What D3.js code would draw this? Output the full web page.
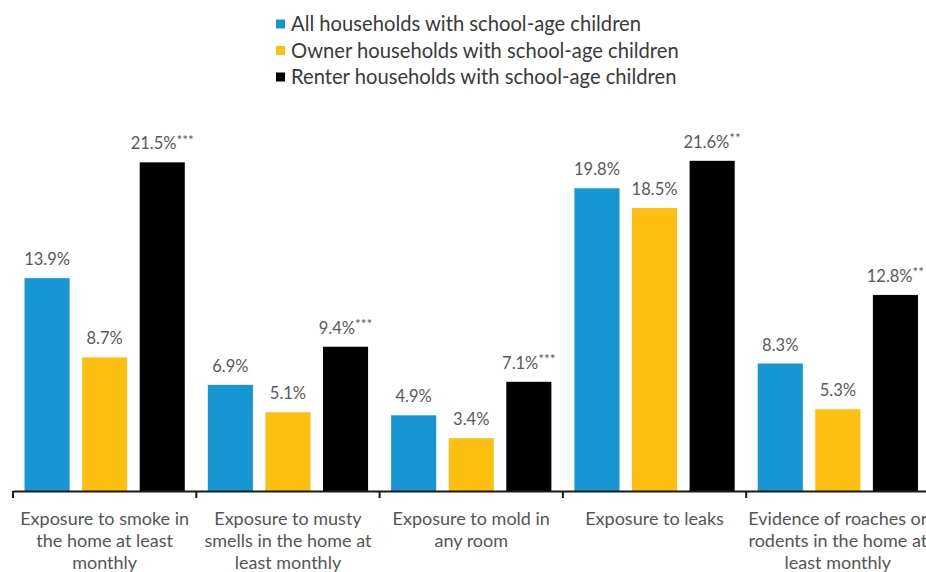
<!DOCTYPE html>
<html>
<head>
<meta charset="utf-8">
<script src="https://cdn.jsdelivr.net/npm/d3@7"></script>
<style>
  html, body { margin: 0; padding: 0; background: #ffffff; }
  svg { display: block; font-family: Lato, "Open Sans", sans-serif; }
</style>
</head>
<body>
<svg id="chart" width="926" height="572"></svg>
<script>
// Housing-quality exposures for households with school-age children
const categories = [
  ["Exposure to smoke in", "the home at least", "monthly"],
  ["Exposure to musty", "smells in the home at", "least monthly"],
  ["Exposure to mold in", "any room"],
  ["Exposure to leaks"],
  ["Evidence of roaches or", "rodents in the home at", "least monthly"]
];
const seriesNames = [
  "All households with school-age children",
  "Owner households with school-age children",
  "Renter households with school-age children"
];
const allValues    = [13.9, 6.9, 4.9, 19.8, 8.3];
const ownerValues  = [8.7, 5.1, 3.4, 18.5, 5.3];
const renterValues = [21.5, 9.4, 7.1, 21.6, 12.8];
// significance markers on the renter series
const renterStars  = ["***", "***", "***", "**", "**"];
const colors = ["#1696d2", "#fdbf11", "#000000"];

const svg = d3.select("#chart");
const catIds = categories.map((c, i) => i);
const series = [allValues, ownerValues, renterValues];

const x0 = d3.scaleBand().domain(catIds).range([13, 929.5]).padding(0);
const x1 = d3.scaleBand().domain([0, 1, 2]).range([0, x0.bandwidth()])
  .paddingInner(0.217).paddingOuter(0.2);
const y = d3.scaleLinear().domain([0, 25]).range([490, 109]);

// Legend
const legend = svg.append("g").attr("class", "legend");
seriesNames.forEach((name, i) => {
  const row = legend.append("g").attr("transform", `translate(276, ${24 + i * 26.5})`);
  row.append("rect").attr("x", 0).attr("y", -4.5).attr("width", 9).attr("height", 9)
    .attr("fill", colors[i]);
  row.append("text").attr("x", 15).attr("y", 0).attr("dy", "0.35em")
    .attr("font-size", 20.2).attr("fill", "#3a3a3a").text(name);
});

// Bars
const groups = svg.append("g").selectAll("g").data(catIds).join("g")
  .attr("transform", d => `translate(${x0(d)},0)`);

groups.selectAll("rect")
  .data(ci => series.map((s, si) => ({ si, v: s[ci], ci })))
  .join("rect")
  .attr("x", d => x1(d.si))
  .attr("width", x1.bandwidth())
  .attr("y", d => y(d.v))
  .attr("height", d => y(0) - y(d.v) + 1)
  .attr("fill", d => colors[d.si]);

// Value labels
const labels = groups.selectAll("text.val")
  .data(ci => series.map((s, si) => ({ si, v: s[ci], ci })))
  .join("text")
  .attr("class", "val")
  .attr("x", d => x1(d.si) + x1.bandwidth() / 2)
  .attr("y", d => y(d.v) - 13)
  .attr("text-anchor", "middle")
  .attr("font-size", 16.5)
  .attr("fill", "#595959");
labels.append("tspan").text(d => d.v.toFixed(1) + "%");
labels.filter(d => d.si === 2).append("tspan")
  .attr("font-size", 13.5).attr("dy", "-0.35em")
  .text(d => renterStars[d.ci]);

// Axis
const axis = svg.append("g").attr("transform", "translate(0,491)")
  .call(d3.axisBottom(x0).tickSize(0).tickSizeOuter(0).tickFormat(""));
axis.select(".domain").attr("stroke", "#1a1a1a").attr("stroke-width", 2);
axis.selectAll(".tick").remove();
axis.selectAll("line.sep").data(catIds).join("line")
  .attr("class", "sep")
  .attr("x1", d => x0(d)).attr("x2", d => x0(d))
  .attr("y1", 0).attr("y2", 7)
  .attr("stroke", "#1a1a1a").attr("stroke-width", 2);

// Category labels
const cat = svg.append("g").selectAll("text").data(catIds).join("text")
  .attr("x", d => x0(d) + x0.bandwidth() / 2)
  .attr("y", 525)
  .attr("text-anchor", "middle")
  .attr("font-size", 18)
  .attr("fill", "#555555");
cat.selectAll("tspan").data(d => categories[d].map(t => ({ t, x: x0(d) + x0.bandwidth() / 2 })))
  .join("tspan")
  .attr("x", d => d.x)
  .attr("dy", (d, i) => i === 0 ? 0 : 22)
  .text(d => d.t);
</script>
</body>
</html>
